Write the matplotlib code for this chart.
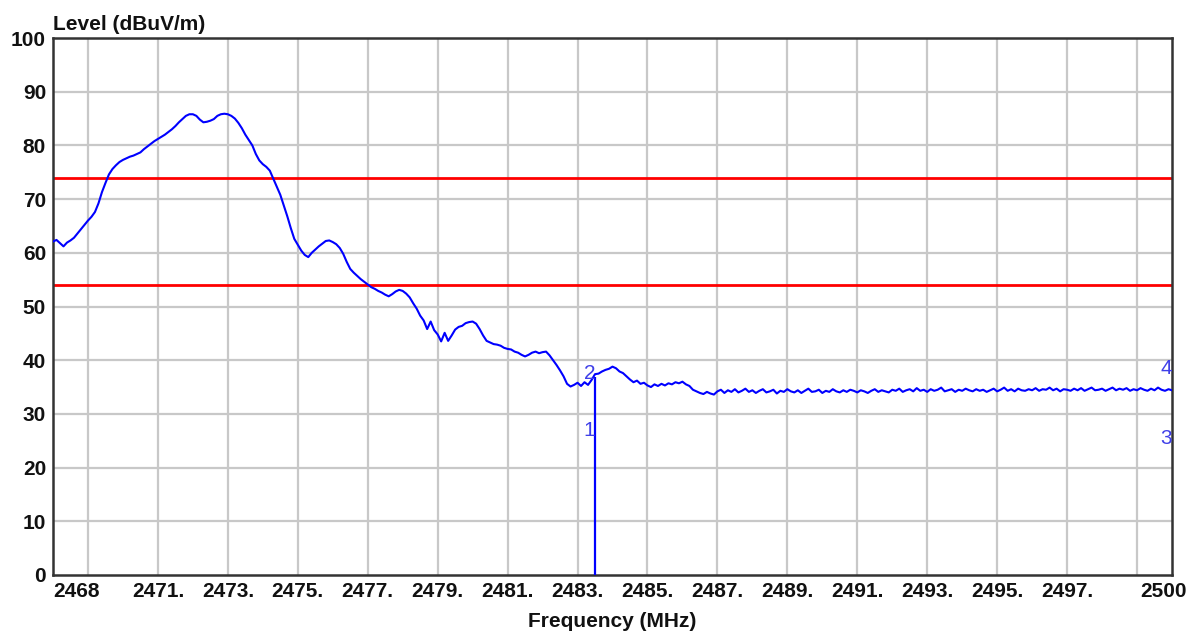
import numpy as np
import matplotlib
matplotlib.use('Agg')
import matplotlib.pyplot as plt
from matplotlib.transforms import ScaledTranslation

plt.rcParams['font.family'] = ['Liberation Sans', 'DejaVu Sans']

# sweep 2468 - 2500 MHz, level read every 0.1 MHz (dBuV/m)
freq_start = 2468.0
freq_stop = 2500.0
level = [
    62.1, 62.4, 61.8, 61.2, 61.9, 62.3, 62.8, 63.6, 64.4, 65.2,
    66.0, 66.7, 67.6, 69.2, 71.3, 73.0, 74.6, 75.6, 76.3, 76.9,
    77.3, 77.6, 77.9, 78.1, 78.4, 78.7, 79.3, 79.8, 80.3, 80.8,
    81.2, 81.6, 82.0, 82.5, 83.0, 83.6, 84.3, 84.9, 85.5, 85.8,
    85.8, 85.5, 84.8, 84.3, 84.4, 84.6, 84.9, 85.5, 85.8, 85.9,
    85.8, 85.5, 85.0, 84.2, 83.2, 82.0, 81.0, 80.0, 78.4, 77.2,
    76.5, 76.0, 75.3, 73.8, 72.3, 70.8, 68.8, 66.8, 64.6, 62.6,
    61.5, 60.4, 59.6, 59.2, 60.0, 60.6, 61.2, 61.7, 62.2, 62.3,
    62.0, 61.6, 60.9, 59.8, 58.3, 57.0, 56.3, 55.7, 55.1, 54.6,
    54.1, 53.6, 53.3, 52.9, 52.6, 52.2, 51.9, 52.3, 52.8, 53.1,
    52.9, 52.4, 51.7, 50.6, 49.6, 48.3, 47.4, 45.8, 47.2, 45.6,
    44.8, 43.5, 45.1, 43.6, 44.6, 45.7, 46.2, 46.4, 46.9, 47.1,
    47.2, 46.8, 45.8, 44.6, 43.6, 43.3, 43.0, 42.9, 42.7, 42.3,
    42.1, 42.0, 41.6, 41.4, 41.0, 40.7, 41.0, 41.4, 41.6, 41.3,
    41.5, 41.6, 40.9, 40.0, 39.1, 38.1, 37.0, 35.6, 35.1, 35.4,
    35.8, 35.2, 35.9, 35.4, 36.3, 37.4, 37.5, 37.9, 38.2, 38.4,
    38.8, 38.5, 37.9, 37.6, 37.0, 36.4, 35.9, 36.2, 35.6, 35.8,
    35.3, 35.0, 35.5, 35.2, 35.6, 35.3, 35.7, 35.5, 35.9, 35.7,
    36.0, 35.5, 35.2, 34.5, 34.2, 33.9, 33.7, 34.1, 33.8, 33.6,
    34.2, 34.5, 33.9, 34.4, 34.1, 34.6, 34.0, 34.3, 34.7, 34.1,
    34.4, 33.9, 34.3, 34.6, 34.0, 34.2, 34.5, 33.8, 34.3, 34.1,
    34.6, 34.2, 34.0, 34.4, 33.9, 34.3, 34.7, 34.1, 34.2, 34.5,
    33.9, 34.3, 34.1, 34.6, 34.2, 34.0, 34.4, 34.1, 34.5, 34.3,
    34.0, 34.4, 34.2, 33.9, 34.3, 34.6, 34.1, 34.4, 34.2, 34.0,
    34.5, 34.3, 34.7, 34.1, 34.4, 34.6, 34.2, 34.8, 34.3, 34.5,
    34.1, 34.6, 34.3, 34.5, 34.9, 34.2, 34.4, 34.6, 34.1, 34.5,
    34.3, 34.7, 34.4, 34.2, 34.6, 34.3, 34.5, 34.1, 34.4, 34.7,
    34.2, 34.5, 34.9, 34.3, 34.6, 34.2, 34.7, 34.4, 34.3, 34.6,
    34.4, 34.8, 34.3, 34.6, 34.5, 34.9, 34.4, 34.7, 34.2, 34.6,
    34.5, 34.3, 34.7, 34.4, 34.8, 34.3, 34.6, 34.9, 34.4, 34.5,
    34.7, 34.3, 34.6, 34.9, 34.4, 34.7, 34.5, 34.8, 34.3, 34.6,
    34.4, 34.8, 34.5, 34.3, 34.7, 34.4, 34.9, 34.5, 34.3, 34.6,
    34.4,
]
freq = np.linspace(freq_start, freq_stop, len(level))

# limit lines
limits = [74, 54]

# markers: labels and where they are written
marker_names = ['1', '2', '3', '4']
marker_freqs = [2483.5, 2483.5, 2500.0, 2500.0]
marker_levels = [27.0, 37.5, 25.5, 38.5]
marker_line_freq = 2483.5
marker_line_level = 36.9

xtick_pos = [2468, 2471, 2473, 2475, 2477, 2479, 2481, 2483, 2485,
             2487, 2489, 2491, 2493, 2495, 2497, 2500]
xtick_labels = ['2468', '2471.', '2473.', '2475.', '2477.', '2479.', '2481.',
                '2483.', '2485.', '2487.', '2489.', '2491.', '2493.', '2495.',
                '2497.', '2500']
xgrid = [2469, 2471, 2473, 2475, 2477, 2479, 2481, 2483, 2485, 2487,
         2489, 2491, 2493, 2495, 2497, 2499]

fig = plt.figure(figsize=(11.92, 6.32), dpi=100)
ax = fig.add_axes([53 / 1192, 1 - 575 / 632, 1119 / 1192, 537 / 632])

# grid
for g in xgrid:
    ax.axvline(g, color='#c8c8c8', lw=1.6, zorder=0)
for g in range(10, 100, 10):
    ax.axhline(g, color='#c8c8c8', lw=1.6, zorder=0)

for lim in limits:
    ax.axhline(lim, color='#ff0000', lw=2.0, zorder=2)

ax.plot(freq, level, color='#0000ff', lw=1.5, zorder=3)
ax.vlines(marker_line_freq, 0, marker_line_level, color='#0000ff', lw=1.6, zorder=3)

for name, mf, ml in zip(marker_names, marker_freqs, marker_levels):
    ax.text(mf, ml, name, color='#4040e8', fontsize=15, ha='right', va='center', zorder=4)

ax.set_xlim(freq_start, freq_stop)
ax.set_ylim(0, 100)
ax.set_yticks(range(0, 101, 10))
ax.set_xticks(xtick_pos)
ax.set_xticklabels(xtick_labels)
ax.tick_params(length=0, labelsize=15, colors='#111111', pad=5)
for lbl in ax.get_xticklabels() + ax.get_yticklabels():
    lbl.set_fontweight('bold')
ax.get_xticklabels()[0].set_horizontalalignment('left')
last = ax.get_xticklabels()[-1]
last.set_horizontalalignment('right')
last.set_transform(last.get_transform() + ScaledTranslation(0.15, 0, fig.dpi_scale_trans))

for s in ax.spines.values():
    s.set_color('#333333')
    s.set_linewidth(1.8)

ax.text(0, 1.008, 'Level (dBuV/m)', transform=ax.transAxes, ha='left', va='bottom',
        fontsize=15, fontweight='bold', color='#111111')
ax.set_xlabel('Frequency (MHz)', fontsize=15, fontweight='bold', color='#111111', labelpad=8)

fig.savefig('out.png', dpi=100)
